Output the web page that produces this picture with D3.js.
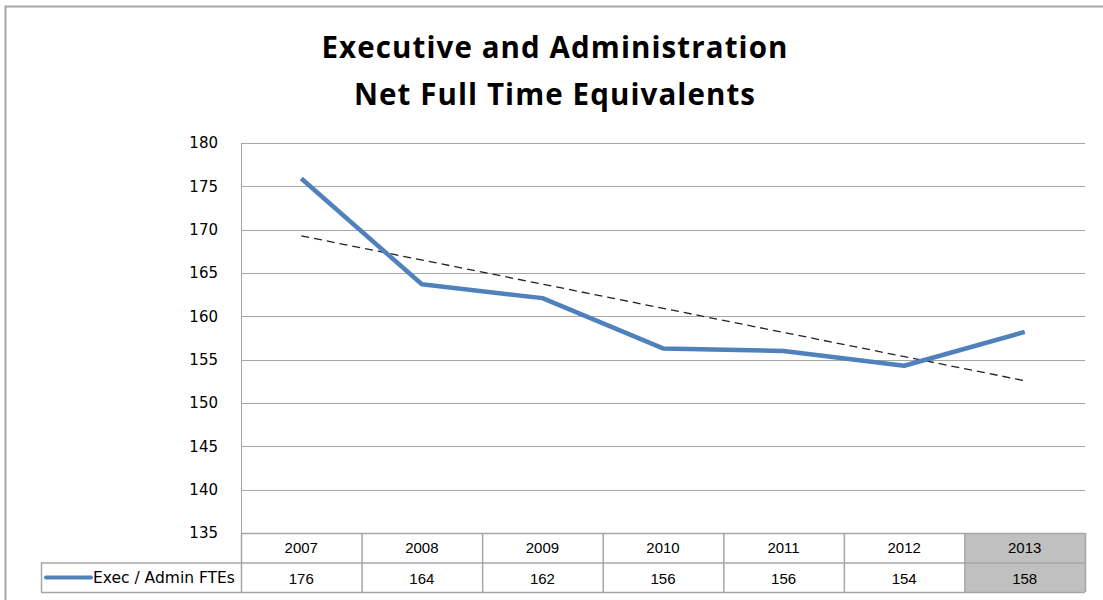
<!DOCTYPE html>
<html lang="en">
<head>
  <meta charset="UTF-8" />
  <title>Executive and Administration - Net FTEs</title>
  <script src="https://d3js.org/d3.v7.min.js"></script>
  <style>
    body { margin: 0; background: #fff; }
    svg { display: block; }
  </style>
</head>
<body>
  <div id="chart"></div>
  <script>
    // Dados
    const years = ["2007", "2008", "2009", "2010", "2011", "2012", "2013"];
    const ftes = [175.9, 163.7, 162.1, 156.3, 156.0, 154.3, 158.2];
    const yTicks = [135, 140, 145, 150, 155, 160, 165, 170, 175, 180];
    const seriesName = "Exec / Admin FTEs";
    const titleLines = ["Executive and Administration", "Net Full Time Equivalents"];

    const width = 1103, height = 600;
    const plot = { left: 241, right: 1085, top: 143, bottom: 533 };
    const rowH = 29.5;
    const grid = "#a6a6a6";

    const svg = d3.select("#chart").append("svg")
      .attr("width", width).attr("height", height);

    // moldura externa
    svg.append("rect")
      .attr("x", 5.5).attr("y", 6.5)
      .attr("width", width + 20).attr("height", height + 20)
      .attr("fill", "none").attr("stroke", grid).attr("stroke-width", 2);

    // título
    svg.append("text")
      .attr("x", 553).attr("text-anchor", "middle")
      .style("font-family", "'Open Sans', 'Liberation Sans', sans-serif")
      .style("font-weight", "bold").style("font-size", "29.5px")
      .style("letter-spacing", "1.1px")
      .selectAll("tspan").data(titleLines).join("tspan")
      .attr("x", 555).attr("y", (d, i) => 58 + i * 47)
      .text(d => d);

    const x = d3.scaleBand().domain(years).range([plot.left, plot.right]);
    const y = d3.scaleLinear().domain([135, 180]).range([plot.bottom, plot.top]);

    // grade horizontal
    svg.append("g").selectAll("line").data(yTicks).join("line")
      .attr("x1", plot.left).attr("x2", plot.right)
      .attr("y1", d => Math.round(y(d)) + 0.5).attr("y2", d => Math.round(y(d)) + 0.5)
      .attr("stroke", grid).attr("stroke-width", 1);

    // eixo vertical
    svg.append("line")
      .attr("x1", plot.left + 0.5).attr("x2", plot.left + 0.5)
      .attr("y1", plot.top).attr("y2", plot.bottom)
      .attr("stroke", grid);

    // rótulos do eixo y
    const yAxis = svg.append("g")
      .attr("transform", `translate(${plot.left - 23},0)`)
      .call(d3.axisLeft(y).tickValues(yTicks).tickSize(0).tickPadding(0));
    yAxis.select(".domain").remove();
    yAxis.selectAll("text")
      .style("font-family", "'DejaVu Sans', sans-serif")
      .style("font-size", "15px").attr("fill", "#000");

    // linha de tendência (regressão linear)
    const idx = years.map((d, i) => i);
    const mx = d3.mean(idx), my = d3.mean(ftes);
    const slope = d3.sum(idx, i => (i - mx) * (ftes[i] - my)) / d3.sum(idx, i => (i - mx) ** 2);
    const trend = i => my + slope * (i - mx);
    svg.append("line")
      .attr("x1", x(years[0]) + x.bandwidth() / 2)
      .attr("x2", x(years[years.length - 1]) + x.bandwidth() / 2)
      .attr("y1", y(trend(0))).attr("y2", y(trend(years.length - 1)))
      .attr("stroke", "#222").attr("stroke-width", 1.3)
      .attr("stroke-dasharray", "8,5");

    // série
    const line = d3.line()
      .x((d, i) => x(years[i]) + x.bandwidth() / 2)
      .y(d => y(d));
    svg.append("path").datum(ftes)
      .attr("fill", "none").attr("stroke", "#4f81bd")
      .attr("stroke-width", 4.5).attr("stroke-linejoin", "round")
      .attr("d", line);

    // tabela de dados
    const table = svg.append("g");
    const r1 = plot.bottom, r2 = plot.bottom + rowH, r3 = plot.bottom + 2 * rowH;
    const legendLeft = 41;

    // célula destacada de 2013
    const last = years[years.length - 1];
    table.append("rect")
      .attr("x", x(last)).attr("y", r1)
      .attr("width", x.bandwidth()).attr("height", r3 - r1)
      .attr("fill", "#c0c0c0");

    const tline = (x1, y1, x2, y2) => table.append("line")
      .attr("x1", x1).attr("y1", y1).attr("x2", x2).attr("y2", y2)
      .attr("stroke", grid).attr("stroke-width", 1.5);

    tline(plot.left, r1 + 0.5, plot.right, r1 + 0.5);
    tline(legendLeft, r2 + 0.5, plot.right, r2 + 0.5);
    tline(legendLeft, r3 + 0.5, plot.right, r3 + 0.5);
    tline(legendLeft + 0.5, r2, legendLeft + 0.5, r3);
    years.forEach(yr => tline(x(yr) + 0.5, r1, x(yr) + 0.5, r3));
    tline(plot.right + 0.5, r1, plot.right + 0.5, r3);

    const cellFont = "'Liberation Sans', Arial, sans-serif";

    table.selectAll("text.yr").data(years).join("text")
      .attr("class", "yr")
      .attr("x", d => x(d) + x.bandwidth() / 2).attr("y", r1 + 20)
      .attr("text-anchor", "middle")
      .style("font-family", cellFont).style("font-size", "15px")
      .text(d => d);

    table.selectAll("text.val").data(ftes).join("text")
      .attr("class", "val")
      .attr("x", (d, i) => x(years[i]) + x.bandwidth() / 2).attr("y", r2 + 21)
      .attr("text-anchor", "middle")
      .style("font-family", cellFont).style("font-size", "15px")
      .text(d => d3.format(".0f")(d));

    // legenda
    table.append("line")
      .attr("x1", 46).attr("x2", 91)
      .attr("y1", r2 + 15).attr("y2", r2 + 15)
      .attr("stroke", "#4f81bd").attr("stroke-width", 4).attr("stroke-linecap", "round");
    table.append("text")
      .attr("x", 93).attr("y", r2 + 20)
      .style("font-family", "'DejaVu Sans', sans-serif").style("font-size", "15.5px")
      .text(seriesName);
  </script>
</body>
</html>
